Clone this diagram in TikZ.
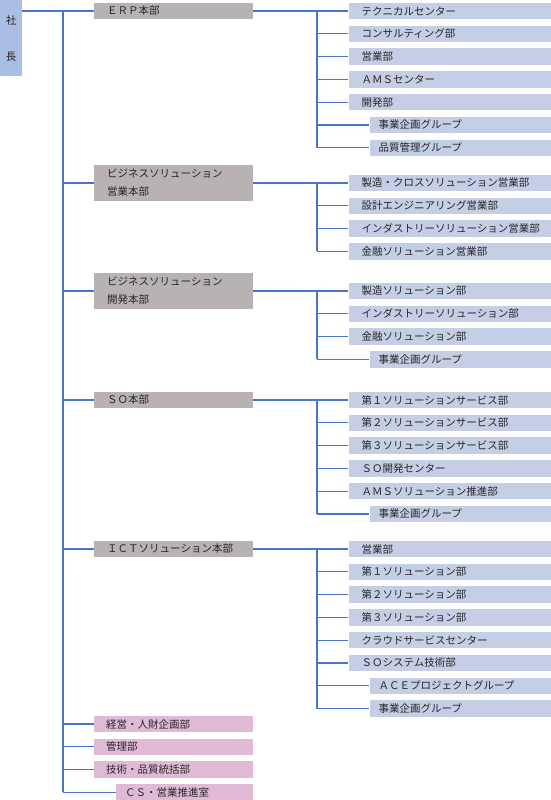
\documentclass[tikz,border=0pt]{standalone}
\usepackage{fontspec}
\setmainfont{Noto Sans CJK JP}
\usetikzlibrary{positioning}
\definecolor{chiefblue}{HTML}{A9BEE3}
\definecolor{secblue}{HTML}{C5CEE5}
\definecolor{hqgray}{HTML}{B8B2B2}
\definecolor{staffpink}{HTML}{E0BAD5}
\definecolor{linkblue}{HTML}{4A74C4}
\definecolor{txtgray}{HTML}{262626}

\begin{document}
\begin{tikzpicture}[x=1pt,y=1pt,
  node distance=5.9pt,
  every node/.style={font=\fontsize{10.5}{18}\selectfont,text=txtgray},
  chief/.style={fill=chiefblue,minimum width=22pt,minimum height=76pt,inner sep=0pt,align=center,font=\fontsize{10.5}{36}\selectfont},
  hqbox/.style={fill=hqgray,align=left,text width=133pt,inner xsep=13pt,inner ysep=1pt,minimum height=16.5pt},
  staffbox/.style={fill=staffpink,align=left,text width=135pt,inner xsep=12pt,inner ysep=1pt,minimum height=16.5pt},
  csbox/.style={staffbox,text width=119pt,inner xsep=9pt},
  secbox/.style={fill=secblue,align=left,text width=176pt,inner xsep=13pt,inner ysep=1pt,minimum height=16.5pt},
  subbox/.style={secbox,text width=163pt,inner xsep=9pt},
  conn/.style={draw=linkblue,line width=1.1pt}
]
\useasboundingbox (0,0) rectangle (550,-800);
\coordinate (t) at (63,0);
\coordinate (s) at (317,0);

\node[chief,anchor=north west] (pres) at (0,0) {社\\長};

% ERP
\node[hqbox,anchor=west] (erp) at (94,-11) {ＥＲＰ本部};
\node[secbox,right=95pt of erp] (erp1) {テクニカルセンター};
\node[secbox,below=of erp1] (erp2) {コンサルティング部};
\node[secbox,below=of erp2] (erp3) {営業部};
\node[secbox,below=of erp3] (erp4) {ＡＭＳセンター};
\node[secbox,below=of erp4] (erp5) {開発部};
\node[subbox,below=of erp5,xshift=10.5pt] (erp6) {事業企画グループ};
\node[subbox,below=of erp6] (erp7) {品質管理グループ};

% business solution sales
\node[hqbox,anchor=west,minimum height=36pt] (bss) at (94,-183) {ビジネスソリューション\\営業本部};
\node[secbox,right=95pt of bss] (bss1) {製造・クロスソリューション営業部};
\node[secbox,below=of bss1] (bss2) {設計エンジニアリング営業部};
\node[secbox,below=of bss2] (bss3) {インダストリーソリューション営業部};
\node[secbox,below=of bss3] (bss4) {金融ソリューション営業部};

% business solution development
\node[hqbox,anchor=west,minimum height=36pt] (bsd) at (94,-291) {ビジネスソリューション\\開発本部};
\node[secbox,right=95pt of bsd] (bsd1) {製造ソリューション部};
\node[secbox,below=of bsd1] (bsd2) {インダストリーソリューション部};
\node[secbox,below=of bsd2] (bsd3) {金融ソリューション部};
\node[subbox,below=of bsd3,xshift=10.5pt] (bsd4) {事業企画グループ};

% SO
\node[hqbox,anchor=west] (so) at (94,-400) {ＳＯ本部};
\node[secbox,right=95pt of so] (so1) {第１ソリューションサービス部};
\node[secbox,below=of so1] (so2) {第２ソリューションサービス部};
\node[secbox,below=of so2] (so3) {第３ソリューションサービス部};
\node[secbox,below=of so3] (so4) {ＳＯ開発センター};
\node[secbox,below=of so4] (so5) {ＡＭＳソリューション推進部};
\node[subbox,below=of so5,xshift=10.5pt] (so6) {事業企画グループ};

% ICT
\node[hqbox,anchor=west] (ict) at (94,-549) {ＩＣＴソリューション本部};
\node[secbox,right=95pt of ict] (ict1) {営業部};
\node[secbox,below=of ict1] (ict2) {第１ソリューション部};
\node[secbox,below=of ict2] (ict3) {第２ソリューション部};
\node[secbox,below=of ict3] (ict4) {第３ソリューション部};
\node[secbox,below=of ict4] (ict5) {クラウドサービスセンター};
\node[secbox,below=of ict5] (ict6) {ＳＯシステム技術部};
\node[subbox,below=of ict6,xshift=10.5pt] (ict7) {ＡＣＥプロジェクトグループ};
\node[subbox,below=of ict7] (ict8) {事業企画グループ};

% staff
\node[staffbox,anchor=west] (hr) at (94,-724) {経営・人財企画部};
\node[staffbox,below=of hr] (adm) {管理部};
\node[staffbox,below=of adm] (qa) {技術・品質統括部};
\node[csbox,below=of qa,xshift=11pt] (cs) {ＣＳ・営業推進室};

% trunk
\draw[conn] (erp.west -| pres.east) -- (erp.west);
\draw[conn] (t |- erp.west) -- (t |- cs.west);
\foreach \d in {bss,bsd,so,ict,hr,adm,qa,cs}
  \draw[conn] (t |- \d.west) -- (\d.west);

% branches
\draw[conn] (erp.east) -- (erp1.west);
\draw[conn] (s |- erp1.west) -- (s |- erp7.west);
\foreach \n in {2,...,7} \draw[conn] (s |- erp\n.west) -- (erp\n.west);
\draw[conn] (bss.east) -- (bss1.west);
\draw[conn] (s |- bss1.west) -- (s |- bss4.west);
\foreach \n in {2,...,4} \draw[conn] (s |- bss\n.west) -- (bss\n.west);
\draw[conn] (bsd.east) -- (bsd1.west);
\draw[conn] (s |- bsd1.west) -- (s |- bsd4.west);
\foreach \n in {2,...,4} \draw[conn] (s |- bsd\n.west) -- (bsd\n.west);
\draw[conn] (so.east) -- (so1.west);
\draw[conn] (s |- so1.west) -- (s |- so6.west);
\foreach \n in {2,...,6} \draw[conn] (s |- so\n.west) -- (so\n.west);
\draw[conn] (ict.east) -- (ict1.west);
\draw[conn] (s |- ict1.west) -- (s |- ict8.west);
\foreach \n in {2,...,8} \draw[conn] (s |- ict\n.west) -- (ict\n.west);
\end{tikzpicture}
\end{document}
